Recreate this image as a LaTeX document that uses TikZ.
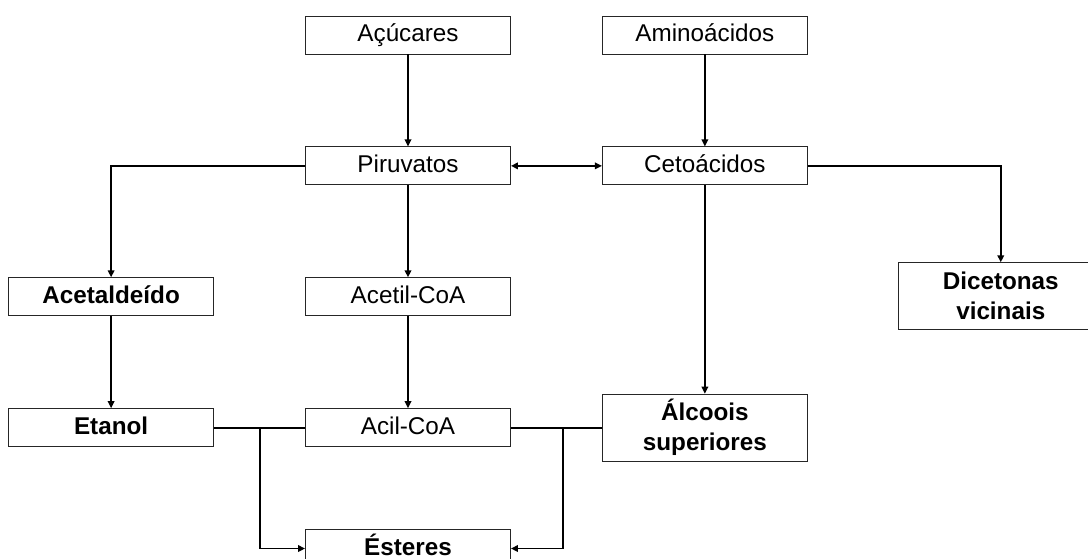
\documentclass[tikz,border=0pt]{standalone}
\usepackage{fontspec}
\setmainfont{Liberation Sans}
\usetikzlibrary{positioning, calc, arrows.meta}

\tikzset{
    box/.style={draw=black!85, line width=0.5pt, minimum width=4.1cm, minimum height=0.76cm,
        inner sep=0pt, align=center, text height=0.96em, text depth=0.2em,
        font=\fontsize{13.8}{17}\selectfont},
    bbox/.style={box, font=\fontsize{13.8}{17}\selectfont\bfseries},
    tbox/.style={bbox, minimum height=1.34cm, text height=, text depth=},
    link/.style={line width=1.1pt, black},
    arr/.style={link, -{Triangle[length=1.4mm, width=1.3mm]}},
    darr/.style={link, {Triangle[length=1.4mm, width=1.3mm]}-{Triangle[length=1.4mm, width=1.3mm]}},
}

\begin{document}
\begin{tikzpicture}[node distance=1.84cm and 1.82cm]
\useasboundingbox (0,0) rectangle (21.76,-11.18);
\clip (0,0) rectangle (21.76,-11.18);

\node[box] (acucares) at (8.16,-0.70) {Açúcares};
\node[box] (amino) [right=of acucares] {Aminoácidos};
\node[box] (piruvatos) [below=of acucares] {Piruvatos};
\node[box] (ceto) [below=of amino] {Cetoácidos};
\node[box] (acetil) [below=of piruvatos] {Acetil-CoA};
\node[bbox] (acetald) [left=of acetil] {Acetaldeído};
\node[tbox] (dicet) [below right=1.54cm and 1.8cm of ceto] {Dicetonas\\vicinais};
\node[box] (acil) [below=of acetil] {Acil-CoA};
\node[bbox] (etanol) [left=of acil] {Etanol};
\node[tbox] (alcoois) [right=of acil] {Álcoois\\superiores};
\node[bbox] (esteres) [below=1.64cm of acil] {Ésteres};

\coordinate (jl) at ($(etanol.east)!0.5!(acil.west)$);
\coordinate (jr) at ([xshift=1.04cm]acil.east);

\draw[arr] (acucares) -- (piruvatos);
\draw[arr] (amino) -- (ceto);
\draw[darr] (piruvatos) -- (ceto);
\draw[arr] (piruvatos.west) -| (acetald.north);
\draw[arr] (piruvatos) -- (acetil);
\draw[arr] (acetil) -- (acil);
\draw[arr] (acetald) -- (etanol);
\draw[arr] (ceto) -- (alcoois);
\draw[arr] (ceto.east) -| (dicet.north);

\draw[link] (etanol) -- (acil);
\draw[link] (acil) -- (alcoois);
\draw[arr] (jl) |- (esteres.west);
\draw[arr] (jr) |- (esteres.east);
\end{tikzpicture}
\end{document}
